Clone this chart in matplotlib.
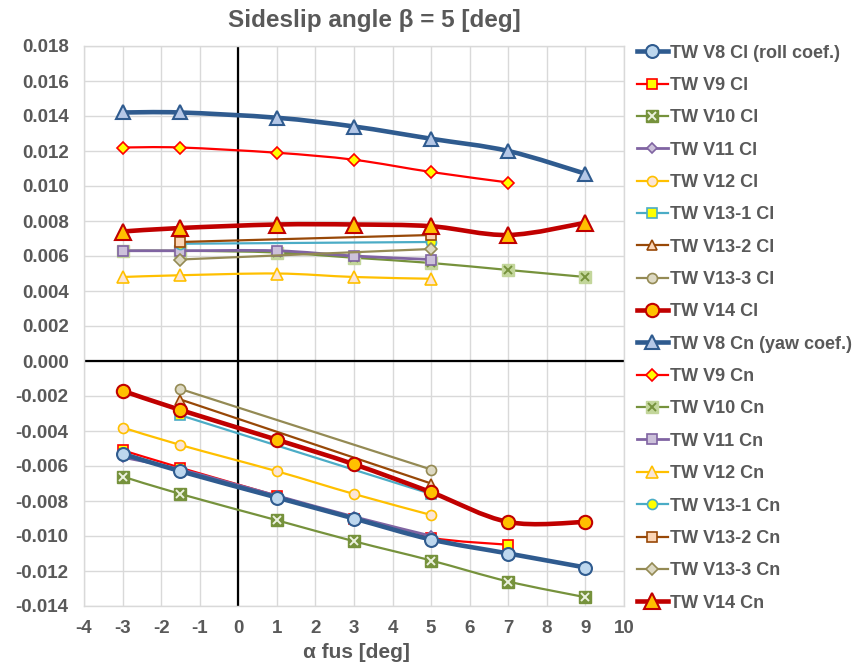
import matplotlib
matplotlib.use("Agg")
import matplotlib.pyplot as plt
from matplotlib.path import Path
from matplotlib.patches import PathPatch
from matplotlib.lines import Line2D
from matplotlib.legend_handler import HandlerTuple

plt.rcParams['font.family'] = ['Liberation Sans', 'DejaVu Sans']

# ---------------- data ----------------
alpha_full = [-3, -1.5, 1, 3, 5, 7, 9]
alpha_to7 = [-3, -1.5, 1, 3, 5, 7]
alpha_to5 = [-3, -1.5, 1, 3, 5]
alpha_v13 = [-1.5, 5]

v8_cl = [-0.0053, -0.0063, -0.0078, -0.0090, -0.0102, -0.0110, -0.0118]
v9_cl = [-0.0051, -0.0061, -0.0077, -0.0090, -0.0101, -0.0105]
v10_cl = [-0.0066, -0.0076, -0.0091, -0.0103, -0.0114, -0.0126, -0.0135]
v11_cl = [-0.0055, -0.0062, -0.0077, -0.0089, -0.0100]
v12_cl = [-0.0038, -0.0048, -0.0063, -0.0076, -0.0088]
v13_1_cl = [-0.0031, -0.0076]
v13_2_cl = [-0.0022, -0.0070]
v13_3_cl = [-0.0016, -0.0062]
v14_cl = [-0.0017, -0.0028, -0.0045, -0.0059, -0.0075, -0.0092, -0.0092]

v8_cn = [0.0142, 0.0142, 0.0139, 0.0134, 0.0127, 0.0120, 0.0107]
v9_cn = [0.0122, 0.0122, 0.0119, 0.0115, 0.0108, 0.0102]
v10_cn = [0.0063, 0.0063, 0.0062, 0.0059, 0.0056, 0.0052, 0.0048]
v11_cn = [0.0063, 0.0063, 0.0063, 0.0060, 0.0058]
v12_cn = [0.0048, 0.0049, 0.0050, 0.0048, 0.0047]
v13_1_cn = [0.0067, 0.0068]
v13_2_cn = [0.0068, 0.0072]
v13_3_cn = [0.0058, 0.0064]
v14_cn = [0.0074, 0.0076, 0.0078, 0.0078, 0.0077, 0.0072, 0.0079]

labels_cl = ["TW V8 Cl (roll coef.)", "TW V9 Cl", "TW V10 Cl", "TW V11 Cl", "TW V12 Cl",
             "TW V13-1 Cl", "TW V13-2 Cl", "TW V13-3 Cl", "TW V14 Cl"]
labels_cn = ["TW V8 Cn (yaw coef.)", "TW V9 Cn", "TW V10 Cn", "TW V11 Cn", "TW V12 Cn",
             "TW V13-1 Cn", "TW V13-2 Cn", "TW V13-3 Cn", "TW V14 Cn"]

x_ticks = list(range(-4, 11))
y_ticks = [-0.014, -0.012, -0.010, -0.008, -0.006, -0.004, -0.002, 0.000,
           0.002, 0.004, 0.006, 0.008, 0.010, 0.012, 0.014, 0.016, 0.018]

# ---------------- styles ----------------
BLUE, RED, GREEN, PURPLE = '#2F5B8F', '#FF0000', '#76923C', '#8064A2'
GOLD, CYAN, BROWN, OLIVE, DRED = '#FFC000', '#4BACC6', '#984807', '#948A54', '#C00000'
TXT = '#595959'

# (x, y, label, color, lw, marker, ms, mfc, mew)
series = [
    (alpha_full, v8_cl, labels_cl[0], BLUE, 3.3, 'o', 9.3, '#BDD7EE', 1.5),
    (alpha_to7, v9_cl, labels_cl[1], RED, 1.6, 's', 6.6, '#FFFF00', 1.2),
    (alpha_full, v10_cl, labels_cl[2], GREEN, 1.6, 'X', 8.0, GREEN, 1.0),
    (alpha_to5, v11_cl, labels_cl[3], PURPLE, 2.0, 'D', 5.6, '#CCC1DA', 1.2),
    (alpha_to5, v12_cl, labels_cl[4], GOLD, 1.6, 'o', 7.2, '#FBE5D6', 1.2),
    (alpha_v13, v13_1_cl, labels_cl[5], CYAN, 1.6, 's', 6.6, '#FFFF00', 1.2),
    (alpha_v13, v13_2_cl, labels_cl[6], BROWN, 1.6, '^', 7.5, '#FBD5B5', 1.2),
    (alpha_v13, v13_3_cl, labels_cl[7], OLIVE, 1.6, 'o', 7.2, '#DDD9C3', 1.2),
    (alpha_full, v14_cl, labels_cl[8], DRED, 3.3, 'o', 9.6, '#FFC000', 1.5),
    (alpha_full, v8_cn, labels_cn[0], BLUE, 3.3, '^', 10.5, '#B4C7E7', 1.5),
    (alpha_to7, v9_cn, labels_cn[1], RED, 1.6, 'D', 6.0, '#FFFF00', 1.2),
    (alpha_full, v10_cn, labels_cn[2], GREEN, 1.6, 'X', 8.0, '#C3D69B', 1.0),
    (alpha_to5, v11_cn, labels_cn[3], PURPLE, 2.0, 's', 7.6, '#CCC1DA', 1.2),
    (alpha_to5, v12_cn, labels_cn[4], GOLD, 1.6, '^', 8.5, '#FBE5D6', 1.2),
    (alpha_v13, v13_1_cn, labels_cn[5], CYAN, 1.6, 'o', 7.2, '#FFFF00', 1.2),
    (alpha_v13, v13_2_cn, labels_cn[6], BROWN, 1.6, 's', 7.6, '#FBD5B5', 1.2),
    (alpha_v13, v13_3_cn, labels_cn[7], OLIVE, 1.6, 'D', 5.8, '#DDD9C3', 1.2),
    (alpha_full, v14_cn, labels_cn[8], DRED, 3.3, '^', 11.0, '#FFC000', 1.5),
]


def smooth_path(xs, ys):
    """Excel-like smoothed line as cubic Bezier through the data points."""
    n = len(xs)
    verts = [(xs[0], ys[0])]
    codes = [Path.MOVETO]
    for i in range(n - 1):
        x0, y0 = (xs[i - 1], ys[i - 1]) if i > 0 else (xs[i], ys[i])
        x1, y1 = xs[i], ys[i]
        x2, y2 = xs[i + 1], ys[i + 1]
        x3, y3 = (xs[i + 2], ys[i + 2]) if i + 2 < n else (x2, y2)
        c1 = (x1 + (x2 - x0) / 6.0, y1 + (y2 - y0) / 6.0)
        c2 = (x2 - (x3 - x1) / 6.0, y2 - (y3 - y1) / 6.0)
        verts += [c1, c2, (x2, y2)]
        codes += [Path.CURVE4] * 3
    return Path(verts, codes)


fig = plt.figure(figsize=(8.54, 6.63), dpi=100)
ax = fig.add_axes([84 / 854, 1 - 606 / 663, 540 / 854, 560 / 663])

ax.set_xlim(-4, 10)
ax.set_ylim(-0.014, 0.018)
ax.set_xticks(x_ticks)
ax.set_yticks(y_ticks)
ax.set_xticklabels([str(t) for t in x_ticks])
ax.set_yticklabels([f"{t:.3f}" for t in y_ticks])
ax.grid(True, color='#D9D9D9', linewidth=1.0, zorder=0)
ax.set_axisbelow(True)
for s in ax.spines.values():
    s.set_color('#D9D9D9')
    s.set_linewidth(1.0)
ax.tick_params(length=0, labelsize=13.5, labelcolor=TXT)
ax.tick_params(axis='y', pad=11)
ax.tick_params(axis='x', pad=10)
for lab in ax.get_xticklabels() + ax.get_yticklabels():
    lab.set_fontweight('bold')

ax.axvline(0, color='black', linewidth=1.6, zorder=1)
ax.axhline(0, color='black', linewidth=1.6, zorder=1)

handles = []
for k, (xs, ys, lab, col, lw, mk, ms, mfc, mew) in enumerate(series):
    z = 3 + k * 0.01
    if lw > 3:
        z += 0.5
    ax.add_patch(PathPatch(smooth_path(xs, ys), fill=False, edgecolor=col,
                           linewidth=lw, capstyle='round', joinstyle='round', zorder=z))
    if mk == 'X':
        ax.plot(xs, ys, linestyle='none', marker='s', markersize=ms,
                markerfacecolor=mfc, markeredgecolor=mfc, zorder=z + 0.001)
        xcol = '#EBF1DE' if mfc == GREEN else GREEN
        ax.plot(xs, ys, linestyle='none', marker='x', markersize=ms * 0.8,
                markeredgecolor=xcol, markeredgewidth=1.4, zorder=z + 0.002)
        h1 = Line2D([], [], color=col, linewidth=lw, marker='s', markersize=ms,
                    markerfacecolor=mfc, markeredgecolor=mfc)
        h2 = Line2D([], [], linestyle='none', marker='x', markersize=ms * 0.8,
                    markeredgecolor=xcol, markeredgewidth=1.4)
        handles.append((h1, h2))
    else:
        ax.plot(xs, ys, linestyle='none', marker=mk, markersize=ms,
                markerfacecolor=mfc, markeredgecolor=col, markeredgewidth=mew,
                zorder=z + 0.001)
        handles.append(Line2D([], [], color=col, linewidth=lw, marker=mk, markersize=ms,
                              markerfacecolor=mfc, markeredgecolor=col,
                              markeredgewidth=mew))

all_labels = labels_cl + labels_cn
leg = fig.legend(handles, all_labels, loc='upper left',
                 bbox_to_anchor=(624 / 854, 1 - 32 / 663),
                 frameon=False, handlelength=1.75, handletextpad=0.1,
                 labelspacing=0.85, borderpad=0.2,
                 prop={'size': 13, 'weight': 'bold'},
                 handler_map={tuple: HandlerTuple(ndivide=1)})
for t in leg.get_texts():
    t.set_color(TXT)

fig.text(374 / 854, 1 - 20 / 663, "Sideslip angle β = 5 [deg]", ha='center', va='center',
         fontsize=17.5, fontweight='bold', color=TXT)
fig.text(356 / 854, 1 - 653 / 663, "α fus [deg]", ha='center', va='center',
         fontsize=15, fontweight='bold', color=TXT)

fig.savefig("out.png", dpi=100)
